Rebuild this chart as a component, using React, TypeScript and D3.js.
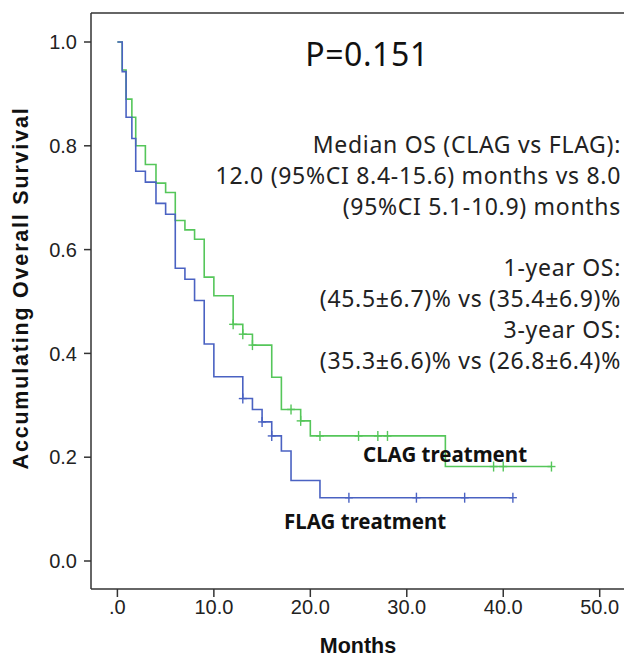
import * as d3 from "d3";

// CLAG (green) step data
const clagTimes = [0, 0.5, 0.9, 1.5, 1.9, 2.9, 4, 5, 6, 7, 8, 9, 10, 12, 13, 14, 16, 17, 19, 20, 34];
const clagSurv = [1, 0.946, 0.89, 0.855, 0.8, 0.764, 0.728, 0.71, 0.656, 0.638, 0.62, 0.547, 0.511, 0.456, 0.437, 0.416, 0.354, 0.292, 0.27, 0.241, 0.182];
const clagEnd = 45;
const clagCensor = [12, 13, 14, 18, 19, 21, 25, 27, 28, 39, 40, 45];

// FLAG (blue)
const flagTimes = [0, 0.5, 0.9, 1.5, 1.9, 2.9, 4, 5, 6, 7, 8, 9, 10, 13, 14, 15, 16, 17, 18, 21];
const flagSurv = [1, 0.943, 0.855, 0.814, 0.751, 0.73, 0.689, 0.668, 0.564, 0.543, 0.502, 0.418, 0.355, 0.313, 0.292, 0.268, 0.241, 0.212, 0.155, 0.122];
const flagEnd = 41;
const flagCensor = [13, 15, 16, 24, 31, 36, 41];

const xTicks = [0, 10, 20, 30, 40, 50];
const xTickLabels = [".0", "10.0", "20.0", "30.0", "40.0", "50.0"];
const yTicks = [0, 0.2, 0.4, 0.6, 0.8, 1.0];

const notes = [
  "Median OS (CLAG vs FLAG):",
  "12.0 (95%CI 8.4-15.6) months vs 8.0",
  "(95%CI 5.1-10.9) months",
  "",
  "1-year OS:",
  "(45.5±6.7)% vs (35.4±6.9)%",
  "3-year OS:",
  "(35.3±6.6)% vs (26.8±6.4)%",
];

const GREEN = "#55c65a";
const BLUE = "#4a62c2";

function survAt(times: number[], surv: number[], t: number) {
  let s = surv[0];
  for (let i = 0; i < times.length; i++) if (times[i] <= t) s = surv[i];
  return s;
}

export default function App() {
  const W = 624, H = 659;
  const left = 91, top = 13, bottom = 589;
  const x = d3.scaleLinear().domain([0, 50]).range([117.4, 599.7]);
  const y = d3.scaleLinear().domain([0, 1]).range([561, 42]);

  const line = d3
    .line<[number, number]>()
    .x((d) => x(d[0]))
    .y((d) => y(d[1]))
    .curve(d3.curveStepAfter);

  const series = [
    { times: clagTimes, surv: clagSurv, end: clagEnd, censor: clagCensor, color: GREEN },
    { times: flagTimes, surv: flagSurv, end: flagEnd, censor: flagCensor, color: BLUE },
  ];

  const tickFont = "'Liberation Sans Narrow', 'Liberation Sans', Arial, sans-serif";
  const noteFont = "'Noto Sans', sans-serif";
  const boldFont = "'Liberation Sans', Arial, sans-serif";

  return (
    <svg width={W} height={H} style={{ position: "absolute", left: 0, top: 0, background: "#fff" }}>
      <rect width={W} height={H} fill="#fff" />
      {/* frame */}
      <line x1={left} x2={W} y1={top} y2={top} stroke="#666" strokeWidth={2} />
      <line x1={left} x2={left} y1={top} y2={bottom} stroke="#333" strokeWidth={1.5} />
      <line x1={left} x2={W} y1={bottom} y2={bottom} stroke="#333" strokeWidth={1.5} />

      {yTicks.map((t) => (
        <g key={t}>
          <line x1={left - 7} x2={left} y1={y(t)} y2={y(t)} stroke="#333" strokeWidth={1.5} />
          <text x={left - 14} y={y(t)} dy="0.36em" textAnchor="end" fontFamily={tickFont} fontSize={20} fill="#222">
            {t.toFixed(1)}
          </text>
        </g>
      ))}
      {xTicks.map((t, i) => (
        <g key={t}>
          <line x1={x(t)} x2={x(t)} y1={bottom} y2={bottom + 8} stroke="#333" strokeWidth={1.5} />
          <text x={x(t)} y={bottom + 25} textAnchor="middle" fontFamily={tickFont} fontSize={20} fill="#222">
            {xTickLabels[i]}
          </text>
        </g>
      ))}

      <text x={358} y={653} textAnchor="middle" fontFamily={boldFont} fontWeight="bold" fontSize={21.5} fill="#111">
        Months
      </text>
      <text
        transform={`translate(28,288) rotate(-90)`}
        textAnchor="middle"
        fontFamily={boldFont}
        fontWeight="bold"
        fontSize={21.5}
        letterSpacing={1.8}
        fill="#111"
      >
        Accumulating Overall Survival
      </text>

      {series.map((s, i) => {
        const pts: [number, number][] = s.times.map((t, j) => [t, s.surv[j]]);
        pts.push([s.end, s.surv[s.surv.length - 1]]);
        return (
          <g key={i}>
            <path d={line(pts) || ""} fill="none" stroke={s.color} strokeWidth={1.6} />
            {s.censor.map((c, j) => {
              const cx = x(c), cy = y(survAt(s.times, s.surv, c));
              return (
                <g key={j} stroke={s.color} strokeWidth={1.4}>
                  <line x1={cx - 4} x2={cx + 4} y1={cy} y2={cy} />
                  <line x1={cx} x2={cx} y1={cy - 5} y2={cy + 5} />
                </g>
              );
            })}
          </g>
        );
      })}

      <text x={367} y={66} textAnchor="middle" fontFamily={noteFont} fontSize={32} letterSpacing={0.6} fill="#111">
        P=0.151
      </text>
      {notes.map((n, i) => (
        <text
          key={i}
          x={621}
          y={153 + i * 30.8}
          textAnchor="end"
          fontFamily={noteFont}
          fontSize={23}
          letterSpacing={0.7}
          fill="#222"
        >
          {n}
        </text>
      ))}

      <text x={363} y={462} fontFamily={noteFont} fontWeight="bold" fontSize={20.5} fill="#111">
        CLAG treatment
      </text>
      <text x={284} y={529} fontFamily={noteFont} fontWeight="bold" fontSize={20.5} fill="#111">
        FLAG treatment
      </text>
    </svg>
  );
}
